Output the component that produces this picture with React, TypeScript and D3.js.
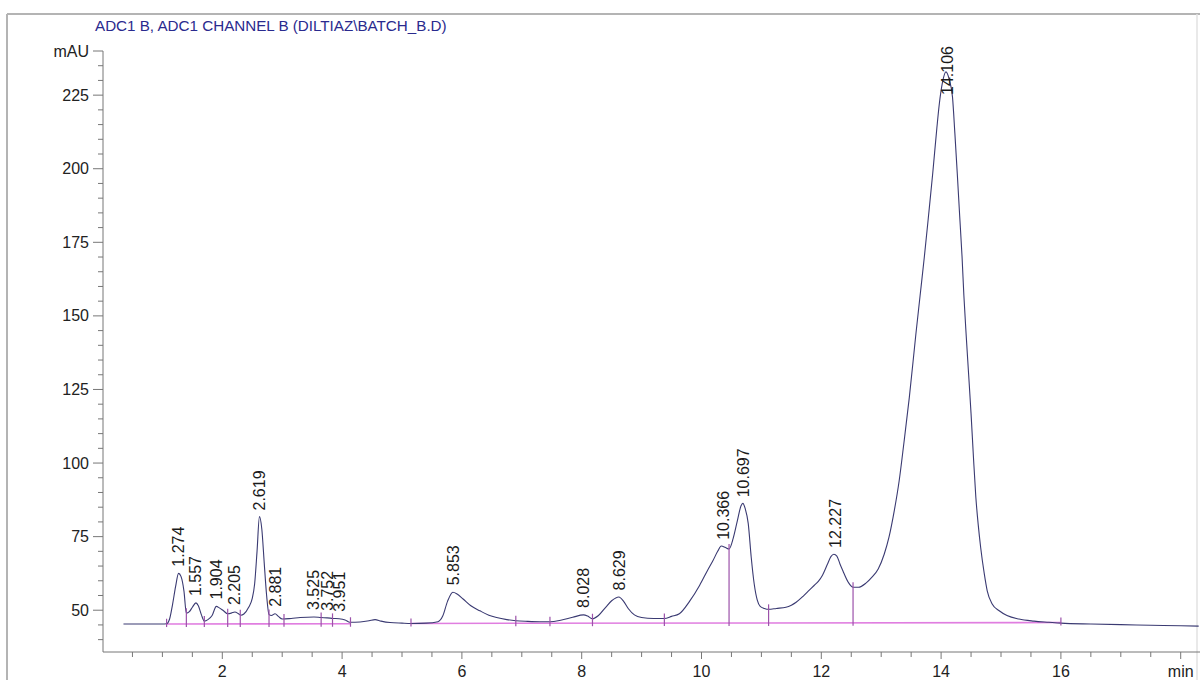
import React from 'react';
import * as d3 from 'd3';

// Detector trace: retention time (min) and absorbance (mAU)
const signalTime = [
  0.35, 1.0, 1.07, 1.12, 1.17, 1.22, 1.27, 1.31, 1.36, 1.4, 1.45, 1.5, 1.56, 1.6, 1.65, 1.7,
  1.76, 1.83, 1.9, 1.95, 2.02, 2.09, 2.15, 2.21, 2.27, 2.31, 2.36, 2.44, 2.5, 2.54, 2.58, 2.62,
  2.66, 2.7, 2.74, 2.78, 2.82, 2.88, 2.94, 3.0, 3.15, 3.3, 3.53, 3.65, 3.75, 3.85, 3.95, 4.05,
  4.13, 4.3, 4.45, 4.55, 4.65, 4.8, 5.0, 5.15, 5.4, 5.6, 5.68, 5.76, 5.85, 5.92, 6.02, 6.15,
  6.3, 6.45, 6.58, 6.75, 6.9, 7.1, 7.3, 7.47, 7.65, 7.85, 8.03, 8.1, 8.18, 8.28, 8.4, 8.5,
  8.62, 8.7, 8.78, 8.88, 9.0, 9.2, 9.38, 9.5, 9.63, 9.8, 9.97, 10.1, 10.19, 10.27, 10.33, 10.4,
  10.46, 10.53, 10.6, 10.66, 10.69, 10.73, 10.78, 10.83, 10.88, 10.93, 10.98, 11.05, 11.12, 11.25,
  11.41, 11.5, 11.58, 11.7, 11.8, 11.88, 11.95, 12.02, 12.1, 12.16, 12.21, 12.26, 12.31, 12.36,
  12.45, 12.53, 12.62, 12.75, 12.85, 12.95, 13.05, 13.13, 13.22, 13.3, 13.38, 13.47, 13.58, 13.65,
  13.72, 13.79, 13.86, 13.93, 13.97, 14.02, 14.08, 14.14, 14.19, 14.23, 14.27, 14.31, 14.35, 14.38,
  14.42, 14.46, 14.5, 14.54, 14.58, 14.62, 14.66, 14.72, 14.77, 14.85, 14.97, 15.1, 15.3, 15.55,
  15.8, 16.0, 16.5, 17.0, 17.5, 18.0, 18.3,
];
const signalMAU = [
  45.3, 45.3, 45.4, 47.0, 52.0, 58.0, 62.5, 61.5, 56.5, 49.0, 49.5, 51.0, 52.5, 51.5, 48.5, 46.3,
  46.8, 48.2, 51.3, 50.8, 49.8, 48.8, 49.0, 49.4, 48.8, 48.3, 48.7, 51.0, 54.0, 59.0, 70.0, 81.8,
  77.5, 66.0, 55.0, 48.5, 48.2, 48.8, 47.8, 47.0, 47.2, 47.5, 47.7, 47.5, 47.4, 47.2, 47.1, 46.7,
  45.9, 46.0, 46.4, 46.8, 46.3, 45.8, 45.6, 45.5, 45.6, 46.1, 48.0, 53.0, 56.1, 55.5, 53.8, 51.5,
  49.8, 48.3, 47.5, 46.8, 46.4, 46.2, 46.1, 46.1, 46.6, 47.6, 48.4, 48.0, 47.1, 48.2, 51.0, 53.2,
  54.5, 53.0, 50.5, 48.4, 47.5, 47.2, 47.2, 47.9, 48.8, 53.0, 58.5, 63.5, 66.8, 70.0, 71.8, 71.3,
  70.8, 74.5, 80.5, 85.5, 86.3, 84.5, 79.5, 68.0, 58.9, 53.5, 51.3, 50.6, 50.3, 50.6,
  51.0, 51.7, 52.7, 54.8, 56.8, 58.4, 59.8, 61.9, 65.5, 68.2, 69.0, 68.4, 65.8, 63.4,
  59.5, 57.8, 57.8, 59.3, 61.3, 64.0, 69.0, 74.8, 84.0, 94.0, 107.0, 122.4, 144.0, 157.0,
  170.0, 184.0, 198.4, 214.0, 222.0, 229.0, 232.9, 230.0, 224.4, 212.0, 198.4, 184.0, 170.0, 157.0,
  143.0, 130.0, 116.8, 102.0, 88.4, 79.0, 71.4, 62.5, 56.6, 52.2, 49.8, 48.2, 47.0, 46.3,
  45.9, 45.6, 45.3, 45.1, 44.9, 44.7, 44.6,
];

// Integrated peaks (retention time, min)
const peakRT = [
  1.274, 1.557, 1.904, 2.205, 2.619, 2.881, 3.525, 3.752, 3.951, 5.853, 8.028, 8.629, 10.366,
  10.697, 12.227, 14.106,
];

// Peak start / end markers (min)
const markerTimes = [
  1.07, 1.4, 1.7, 2.09, 2.3, 2.78, 3.03, 3.65, 3.84, 4.14, 5.15, 6.9, 7.47, 8.18, 9.38, 10.46,
  11.12, 12.53, 16.0,
];

// Integration baseline segments: [t0, mAU0, t1, mAU1]
const baselineSegments = [
  [1.07, 45.3, 4.14, 45.4],
  [5.15, 45.5, 16.0, 45.8],
];

const yMajorTicks = [50, 75, 100, 125, 150, 175, 200, 225];
const xLabelTicks = [2, 4, 6, 8, 10, 12, 14, 16];
const titleText = 'ADC1 B, ADC1 CHANNEL B (DILTIAZ\\BATCH_B.D)';
const yUnit = 'mAU';
const xUnit = 'min';

const FONT = '"Liberation Sans", Arial, Helvetica, sans-serif';

export default function App() {
  const W = 1200;
  const H = 680;
  const x = d3.scaleLinear().domain([0, 18]).range([102.5, 1180.7]);
  const y = d3.scaleLinear().domain([35.8, 240]).range([652, 51]);
  const axisX = 103;
  const axisY = 652;

  const pts: [number, number][] = signalTime.map((t, i) => [t, signalMAU[i]]);
  const line = d3
    .line<[number, number]>()
    .x((d) => x(d[0]))
    .y((d) => y(d[1]))
    .curve(d3.curveMonotoneX);

  const bis = d3.bisector((d: [number, number]) => d[0]).right;
  const signalAt = (t: number) => {
    const i = Math.min(Math.max(bis(pts, t), 1), pts.length - 1);
    const [t0, v0] = pts[i - 1];
    const [t1, v1] = pts[i];
    return v0 + ((v1 - v0) * (t - t0)) / (t1 - t0);
  };
  const baseAt = (t: number) => {
    for (const [t0, v0, t1, v1] of baselineSegments) {
      if (t >= t0 - 1e-6 && t <= t1 + 1e-6) return v0 + ((v1 - v0) * (t - t0)) / (t1 - t0);
    }
    return signalAt(t);
  };

  const yMinor = d3.range(40, 240, 5).filter((v) => v % 25 !== 0);
  const xTicks = d3.range(0.5, 18.01, 0.5);

  const labelFont = 16;
  const plotTop = 43;
  const textLen = (s: string) =>
    s.split('').reduce((a, c) => a + (c === '.' ? 0.278 : 0.556), 0) * labelFont;

  return (
    <svg
      width={W}
      height={H}
      style={{ position: 'absolute', left: 0, top: 0, background: '#fff' }}
      fontFamily={FONT}
    >
      {/* frame */}
      <line x1={7} x2={7} y1={14} y2={H} stroke="#b4b4b4" strokeWidth={2} />
      <line x1={7} x2={W} y1={14} y2={14} stroke="#b4b4b4" strokeWidth={2} />
      <line x1={1197} x2={1197} y1={14} y2={H} stroke="#e2e2e2" strokeWidth={1.5} />

      <text x={95} y={31} fontSize={15.2} fill="#2a2a8e">
        {titleText}
      </text>

      {/* y axis */}
      <line x1={axisX} x2={axisX} y1={y(240)} y2={axisY} stroke="#777" strokeWidth={1} />
      {yMinor.map((v) => (
        <line key={'ym' + v} x1={axisX - 5} x2={axisX} y1={y(v)} y2={y(v)} stroke="#777" />
      ))}
      {[...yMajorTicks, 240].map((v) => (
        <line key={'yM' + v} x1={axisX - 10} x2={axisX} y1={y(v)} y2={y(v)} stroke="#777" />
      ))}
      {yMajorTicks.map((v) => (
        <text key={'yl' + v} x={89} y={y(v)} dy="0.35em" textAnchor="end" fontSize={16} fill="#222">
          {v}
        </text>
      ))}
      <text x={89} y={y(240)} dy="0.35em" textAnchor="end" fontSize={16} fill="#222">
        {yUnit}
      </text>

      {/* x axis */}
      <line x1={axisX} x2={W} y1={axisY} y2={axisY} stroke="#777" />
      {xTicks.map((t) => (
        <line
          key={'xt' + t}
          x1={x(t)}
          x2={x(t)}
          y1={axisY}
          y2={axisY + (t % 2 === 0 ? 7 : 5)}
          stroke="#777"
        />
      ))}
      {xLabelTicks.map((t) => (
        <text key={'xl' + t} x={x(t)} y={677} textAnchor="middle" fontSize={16} fill="#222">
          {t}
        </text>
      ))}
      <text x={x(18)} y={677} textAnchor="middle" fontSize={16} fill="#222">
        {xUnit}
      </text>

      {/* integration baseline */}
      {baselineSegments.map(([t0, v0, t1, v1], i) => (
        <line
          key={'bl' + i}
          x1={x(t0)}
          y1={y(v0)}
          x2={x(t1)}
          y2={y(v1)}
          stroke="#e07ee0"
          strokeWidth={1.6}
        />
      ))}

      {/* signal */}
      <path d={line(pts) || ''} fill="none" stroke="#3a3a72" strokeWidth={1.1} />

      {/* peak start / end markers */}
      {markerTimes.map((t) => {
        const sy = y(signalAt(t));
        const by = y(baseAt(t));
        return (
          <line
            key={'mk' + t}
            x1={x(t)}
            x2={x(t)}
            y1={Math.min(sy, by) - 5}
            y2={by + 3}
            stroke="#9c52aa"
            strokeWidth={1.2}
          />
        );
      })}

      {/* retention time labels */}
      {peakRT.map((rt) => {
        const s = rt.toFixed(3);
        const sy = y(signalAt(rt));
        const start = Math.max(sy - 7, plotTop + textLen(s) + 3);
        return (
          <text
            key={'pk' + rt}
            transform={`translate(${x(rt)},${start}) rotate(-90)`}
            dy="0.35em"
            fontSize={labelFont}
            fill="#1a1a1a"
          >
            {s}
          </text>
        );
      })}
    </svg>
  );
}
